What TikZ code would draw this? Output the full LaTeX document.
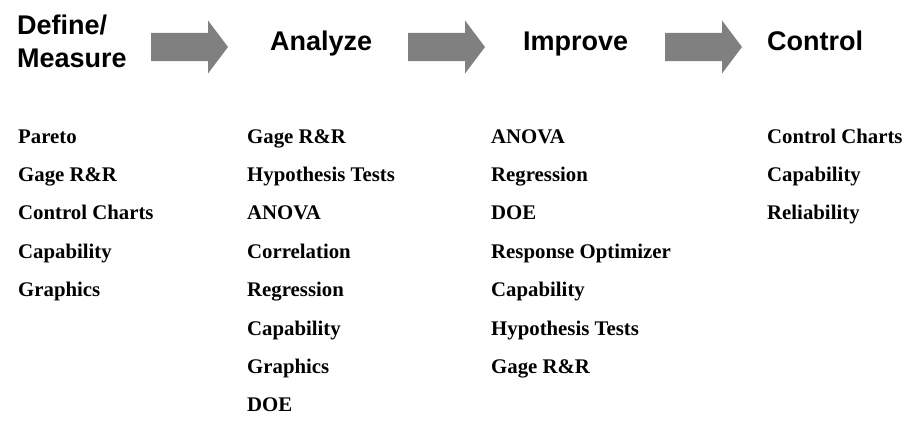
\documentclass[tikz,border=0pt]{standalone}
\usepackage{fontspec}
\setmainfont{Liberation Serif}
\newfontfamily\headfont{Liberation Sans}
\definecolor{arrowgray}{HTML}{808080}
\tikzset{
  x=1pt, y=-1pt,
  % multi-line nodes sit on the baseline of their last line
  phase/.style={anchor=base west, inner sep=0pt, align=left,
    font=\headfont\bfseries\fontsize{27}{33}\selectfont},
  toollist/.style={anchor=base west, inner sep=0pt, align=left,
    font=\bfseries\fontsize{20.8}{38.4}\selectfont},
  pics/flowarrow/.style={code={
    \fill[arrowgray] (0,-14) -- (57,-14) -- (57,-26.5) -- (77,0)
      -- (57,26.5) -- (57,14) -- (0,14) -- cycle;
  }}
}
\begin{document}
\begin{tikzpicture}
\useasboundingbox (0,0) rectangle (917,428);

% phase headings
\node[phase] (define)  at (17,67)  {Define/\\Measure};
\node[phase] (analyze) at (270,51) {Analyze};
\node[phase] (improve) at (523,51) {Improve};
\node[phase] (control) at (767,51) {Control};

% block arrows between the phases
\pic (arrowA) at (151,47) {flowarrow};
\pic (arrowB) at (408,47) {flowarrow};
\pic (arrowC) at (665,47) {flowarrow};

% tools used in each phase (first baseline 143, step 38.4)
\node[toollist] (tools1) at (18,296.6)
  {Pareto\\Gage R\&R\\Control Charts\\Capability\\Graphics};
\node[toollist] (tools2) at (247,411.8)
  {Gage R\&R\\Hypothesis Tests\\ANOVA\\Correlation\\Regression\\Capability\\Graphics\\DOE};
\node[toollist] (tools3) at (491,373.4)
  {ANOVA\\Regression\\DOE\\Response Optimizer\\Capability\\Hypothesis Tests\\Gage R\&R};
\node[toollist] (tools4) at (767,219.8)
  {Control Charts\\Capability\\Reliability};
\end{tikzpicture}
\end{document}
